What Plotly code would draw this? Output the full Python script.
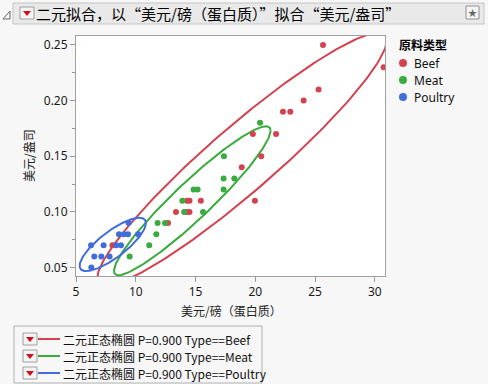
import numpy as np
import plotly.graph_objects as go

# ---- data ----
beef_x = [8.05, 12.7, 13.37, 14.29, 14.5, 14.29, 14.5, 15.45, 19.97, 18.87, 20.5, 19.8, 21.74, 22.32, 22.93, 24.05, 25.3, 25.67, 30.74]
beef_y = [0.07, 0.09, 0.10, 0.10, 0.10, 0.11, 0.11, 0.11, 0.11, 0.14, 0.15, 0.17, 0.17, 0.19, 0.19, 0.20, 0.21, 0.25, 0.23]
meat_x = [9.49, 11.13, 11.72, 11.83, 12.45, 13.9, 14.05, 14.84, 15.18, 15.63, 17.35, 17.35, 18.25, 17.38, 20.4]
meat_y = [0.06, 0.07, 0.08, 0.09, 0.09, 0.11, 0.10, 0.12, 0.12, 0.10, 0.12, 0.13, 0.13, 0.15, 0.18]
poultry_x = [6.26, 7.31, 8.37, 8.77, 6.53, 7.12, 7.81, 6.28, 8.6, 9.0, 9.35, 10.2, 9.4]
poultry_y = [0.07, 0.07, 0.07, 0.07, 0.06, 0.06, 0.06, 0.05, 0.08, 0.08, 0.08, 0.08, 0.09]

groups = ["Beef", "Meat", "Poultry"]
colors = {"Beef": "#d3434f", "Meat": "#3aab3e", "Poultry": "#416ddc"}
data = {"Beef": (beef_x, beef_y), "Meat": (meat_x, meat_y), "Poultry": (poultry_x, poultry_y)}
prob = 0.900

x_ticks = [5, 10, 15, 20, 25, 30]
y_ticks = [0.05, 0.10, 0.15, 0.20, 0.25]

CJK = "Noto Sans CJK SC"
LAT = "Noto Sans"

def ellipse(x, y, p, n=240):
    x = np.asarray(x, float); y = np.asarray(y, float)
    m = np.array([x.mean(), y.mean()])
    cov = np.cov(np.vstack([x, y]))
    c = -2.0 * np.log(1.0 - p)
    L = np.linalg.cholesky(cov)
    t = np.linspace(0, 2 * np.pi, n)
    pts = m[:, None] + np.sqrt(c) * L @ np.vstack([np.cos(t), np.sin(t)])
    return pts[0], pts[1]

fig = go.Figure()

for g in groups:
    ex, ey = ellipse(*data[g], prob)
    fig.add_trace(go.Scatter(x=ex, y=ey, mode="lines", line=dict(color=colors[g], width=2),
                             showlegend=False, hoverinfo="skip"))
for g in groups:
    gx, gy = data[g]
    fig.add_trace(go.Scatter(x=gx, y=gy, mode="markers", name=g, showlegend=False,
                             marker=dict(color=colors[g], size=6)))

# pixel helpers -> paper coordinates
L_, R_, T_, B_ = 76, 385, 36, 276
W, H = 488, 384
def px(v): return (v - L_) / (R_ - L_)
def py(v): return (B_ - v) / (B_ - T_)

shapes = []
annotations = []

# title bar
shapes.append(dict(type="rect", xref="paper", yref="paper", x0=px(13), x1=px(484), y0=py(24), y1=py(3),
                   fillcolor="#e9e9e9", line=dict(color="#c4c4c4", width=1), layer="below"))
def dropdown(cx, cy):
    shapes.append(dict(type="rect", xref="paper", yref="paper", x0=px(cx - 7), x1=px(cx + 7), y0=py(cy + 6), y1=py(cy - 6),
                       fillcolor="#f4f4f4", line=dict(color="#a0a0a0", width=1)))
    pth = "M {} {} L {} {} L {} {} Z".format(px(cx - 4), py(cy - 2), px(cx + 4), py(cy - 2), px(cx), py(cy + 3))
    shapes.append(dict(type="path", xref="paper", yref="paper", path=pth, fillcolor="#d0101a", line=dict(width=0)))
dropdown(27, 13)
# disclosure triangle
pth = "M {} {} L {} {} L {} {} Z".format(px(3), py(19), px(10), py(19), px(10), py(11))
shapes.append(dict(type="path", xref="paper", yref="paper", path=pth, fillcolor="rgba(0,0,0,0)", line=dict(color="#666666", width=1)))
# star icon
shapes.append(dict(type="rect", xref="paper", yref="paper", x0=px(466), x1=px(479), y0=py(19), y1=py(6),
                   fillcolor="#f4f4f4", line=dict(color="#909090", width=1)))
annotations.append(dict(text="★", xref="paper", yref="paper", x=px(472.5), y=py(12.5), showarrow=False,
                        font=dict(size=9, color="#666666", family=CJK), xanchor="center", yanchor="middle"))
annotations.append(dict(text="二元拟合，以“美元/磅（蛋白质）”拟合“美元/盎司”", xref="paper", yref="paper",
                        x=px(34), y=py(13.5), showarrow=False, xanchor="left", yanchor="middle",
                        font=dict(size=15, color="#000000", family=CJK)))

# axis titles
annotations.append(dict(text="美元/磅（蛋白质）", xref="paper", yref="paper", x=px(231), y=py(310), showarrow=False,
                        xanchor="center", yanchor="middle", font=dict(size=12, color="#222222", family=CJK)))
annotations.append(dict(text="美元/盎司", xref="paper", yref="paper", x=px(28), y=py(156), showarrow=False,
                        textangle=-90, xanchor="center", yanchor="middle", font=dict(size=12, color="#222222", family=CJK)))

# right legend (group markers)
annotations.append(dict(text="<b>原料类型</b>", xref="paper", yref="paper", x=px(397), y=py(45), showarrow=False,
                        xanchor="left", yanchor="middle", font=dict(size=12, color="#000000", family=CJK)))
for i, g in enumerate(groups):
    cy = 63 + i * 17
    shapes.append(dict(type="circle", xref="paper", yref="paper", x0=px(399), x1=px(407), y0=py(cy + 4), y1=py(cy - 4),
                       fillcolor=colors[g], line=dict(width=0)))
    annotations.append(dict(text=g, xref="paper", yref="paper", x=px(412), y=py(cy), showarrow=False,
                            xanchor="left", yanchor="middle", font=dict(size=12, color="#111111", family=LAT)))

# bottom legend box
shapes.append(dict(type="rect", xref="paper", yref="paper", x0=px(14), x1=px(262), y0=py(383), y1=py(326),
                   fillcolor="rgba(0,0,0,0)", line=dict(color="#b0b0b0", width=1)))
for i, g in enumerate(groups):
    cy = 339 + i * 17
    dropdown(30, cy)
    shapes.append(dict(type="line", xref="paper", yref="paper", x0=px(38), x1=px(60), y0=py(cy), y1=py(cy),
                       line=dict(color=colors[g], width=2)))
    annotations.append(dict(text="二元正态椭圆 P={:.3f} Type=={}".format(prob, g), xref="paper", yref="paper",
                            x=px(61), y=py(cy), showarrow=False, xanchor="left", yanchor="middle",
                            font=dict(size=12, color="#111111", family=CJK)))

fig.update_layout(
    width=W, height=H,
    margin=dict(l=L_, r=W - R_, t=T_, b=H - B_, pad=0, autoexpand=False),
    paper_bgcolor="#f7f7f7", plot_bgcolor="#ffffff",
    font=dict(family=LAT, size=12, color="#222222"),
    showlegend=False,
    shapes=shapes, annotations=annotations,
)
fig.update_xaxes(range=[5, 5 + (R_ - L_) / 11.95], tickvals=x_ticks, ticks="outside", ticklen=5, tickcolor="#999999",
                 showgrid=False, zeroline=False, showline=True, linecolor="#a0a0a0", mirror=True, automargin=False,
                 tickfont=dict(family=LAT, size=12, color="#1a1a1a"))
fig.update_yaxes(range=[0.0424, 0.258], tickvals=y_ticks, tickformat=".2f", ticks="outside", ticklen=5, tickcolor="#999999",
                 showgrid=False, zeroline=False, showline=True, linecolor="#a0a0a0", mirror=True, automargin=False,
                 minor=dict(tickvals=[0.075, 0.125, 0.175, 0.225], ticks="outside", ticklen=3, tickcolor="#999999"),
                 tickfont=dict(family=LAT, size=12, color="#1a1a1a"))

fig.write_html("out.html", config={"displayModeBar": False},
               post_script="document.body.style.margin='0';document.body.style.background='#f7f7f7';")
